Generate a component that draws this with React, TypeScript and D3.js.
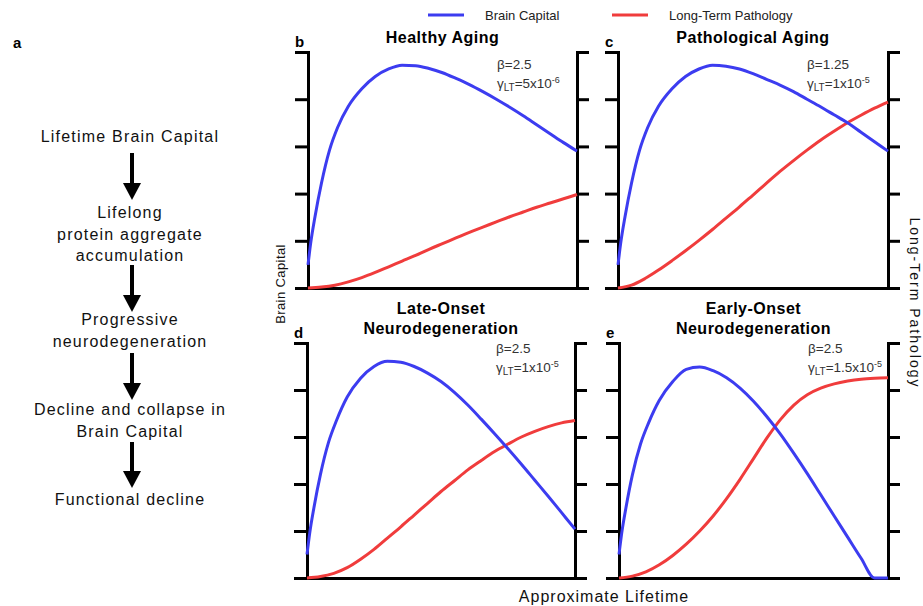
import * as d3 from 'd3';
import { useEffect, useRef } from 'react';

const width = 923;
const height = 606;
const font = 'Liberation Sans, Arial, sans-serif';
const blue = '#3c3cf0';
const red = '#f03c3c';

// ライフタイム（寿命の%）
const capitalAge = [0, 1, 2.6, 5, 8, 11, 15, 20, 25, 30, 35, 40, 45, 50, 55, 60, 65, 70, 75, 80, 85, 90, 95, 100];
const pathologyAge = [0, 5, 10, 15, 20, 25, 30, 35, 40, 45, 50, 55, 60, 65, 70, 75, 80, 85, 90, 95, 100];

// b: Healthy Aging
const healthyCapital = [0.49, 0.95, 1.51, 2.22, 2.92, 3.4, 3.85, 4.22, 4.48, 4.64, 4.72, 4.71, 4.65, 4.56, 4.44, 4.31, 4.16, 4.0, 3.83, 3.65, 3.46, 3.27, 3.08, 2.9];
const healthyPathology = [0, 0.02, 0.06, 0.13, 0.22, 0.33, 0.45, 0.57, 0.69, 0.82, 0.94, 1.06, 1.18, 1.29, 1.4, 1.51, 1.61, 1.71, 1.8, 1.89, 1.98];
// c: Pathological Aging
const pathCapital = [0.49, 0.95, 1.51, 2.22, 2.92, 3.4, 3.85, 4.22, 4.48, 4.64, 4.72, 4.7, 4.64, 4.54, 4.42, 4.3, 4.16, 4.0, 3.84, 3.67, 3.5, 3.3, 3.1, 2.9];
const pathPathology = [0, 0.06, 0.2, 0.38, 0.58, 0.79, 1.01, 1.24, 1.48, 1.72, 1.97, 2.22, 2.47, 2.7, 2.92, 3.13, 3.32, 3.5, 3.66, 3.81, 3.94];
// d: Late-Onset Neurodegeneration
const lateCapital = [0.5, 0.95, 1.5, 2.2, 2.88, 3.35, 3.85, 4.25, 4.5, 4.61, 4.59, 4.5, 4.36, 4.18, 3.95, 3.68, 3.38, 3.07, 2.75, 2.42, 2.08, 1.74, 1.39, 1.04];
const latePathology = [0, 0.03, 0.1, 0.22, 0.4, 0.61, 0.85, 1.09, 1.34, 1.59, 1.84, 2.07, 2.3, 2.5, 2.69, 2.85, 3.0, 3.12, 3.22, 3.3, 3.35];
// e: Early-Onset Neurodegeneration
const earlyCapital = [0.5, 0.95, 1.5, 2.2, 2.85, 3.3, 3.78, 4.18, 4.44, 4.49, 4.41, 4.26, 4.04, 3.76, 3.43, 3.06, 2.65, 2.22, 1.77, 1.32, 0.87, 0.42, 0, 0];
const earlyPathology = [0, 0.04, 0.13, 0.28, 0.48, 0.72, 1.0, 1.32, 1.69, 2.1, 2.54, 2.98, 3.37, 3.68, 3.9, 4.04, 4.13, 4.19, 4.23, 4.25, 4.26];

const capitalSeries = [healthyCapital, pathCapital, lateCapital, earlyCapital];
const pathologySeries = [healthyPathology, pathPathology, latePathology, earlyPathology];

const panelLetters = ['b', 'c', 'd', 'e'];
const panelTitles = [['Healthy Aging'], ['Pathological Aging'], ['Late-Onset', 'Neurodegeneration'], ['Early-Onset', 'Neurodegeneration']];
const betaLabels = ['2.5', '1.25', '2.5', '2.5'];
const gammaMantissa = ['5', '1', '1', '1.5'];
const gammaExponent = ['-6', '-5', '-5', '-5'];

const flowSteps = [
  ['Lifetime Brain Capital'],
  ['Lifelong', 'protein aggregate', 'accumulation'],
  ['Progressive', 'neurodegeneration'],
  ['Decline and collapse in', 'Brain Capital'],
  ['Functional decline'],
];

// パネル配置
const frames = [
  { left: 308, right: 577, top: 52, bottom: 288, noteTop: 17 },
  { left: 618, right: 888, top: 52, bottom: 288, noteTop: 17 },
  { left: 307, right: 575, top: 343, bottom: 578, noteTop: 10 },
  { left: 619, right: 888, top: 343, bottom: 578, noteTop: 10 },
];
const flowY = [142, 218, 325, 415, 505];
const flowArrows = [
  [153, 200],
  [265, 312],
  [353, 400],
  [442, 488],
];

export default function App() {
  const ref = useRef<HTMLDivElement>(null);

  useEffect(() => {
    if (!ref.current) return;
    const svg = d3
      .create('svg')
      .attr('width', width)
      .attr('height', height)
      .style('position', 'absolute')
      .style('left', 0)
      .style('top', 0)
      .style('background', '#fff')
      .attr('font-family', font);

    // 凡例
    const legend = svg.append('g');
    const legendItems = [
      { label: 'Brain Capital', color: blue, x: 428 },
      { label: 'Long-Term Pathology', color: red, x: 612 },
    ];
    legendItems.forEach((d) => {
      legend.append('line').attr('x1', d.x).attr('x2', d.x + 36).attr('y1', 15).attr('y2', 15)
        .attr('stroke', d.color).attr('stroke-width', 3);
      legend.append('text').attr('x', d.x + 57).attr('y', 19.5).attr('font-size', 13)
        .attr('fill', '#222').text(d.label);
    });

    // パネル a: フローチャート
    svg.append('text').attr('x', 13).attr('y', 48).attr('font-size', 15).attr('font-weight', 'bold').text('a');
    flowSteps.forEach((lines, i) => {
      lines.forEach((line, j) => {
        svg.append('text').attr('x', 130).attr('y', flowY[i] + j * 21.5).attr('text-anchor', 'middle')
          .attr('font-size', 16).attr('letter-spacing', 1.2).attr('fill', '#111').text(line);
      });
    });
    flowArrows.forEach(([y0, y1]) => {
      svg.append('line').attr('x1', 132).attr('x2', 132).attr('y1', y0).attr('y2', y1 - 14)
        .attr('stroke', '#000').attr('stroke-width', 4);
      svg.append('path').attr('d', `M123,${y1 - 17}L141,${y1 - 17}L132,${y1}Z`).attr('fill', '#000');
    });

    // パネル b-e
    frames.forEach((f, i) => {
      const x = d3.scaleLinear().domain([0, 100]).range([f.left, f.right]);
      const y = d3.scaleLinear().domain([0, 5]).range([f.bottom, f.top]);
      const g = svg.append('g');

      const styleAxis = (a: d3.Selection<SVGGElement, unknown, null, undefined>) => {
        a.selectAll('path, line').attr('stroke', '#000').attr('stroke-width', 3);
        a.selectAll('text').remove();
      };

      g.append('g').attr('transform', `translate(${f.left},0)`)
        .call(d3.axisLeft(y).ticks(5).tickSize(13).tickSizeOuter(13).tickFormat(() => ''))
        .call(styleAxis);
      g.append('g').attr('transform', `translate(${f.right},0)`)
        .call(d3.axisRight(y).ticks(5).tickSize(12).tickSizeOuter(12).tickFormat(() => ''))
        .call(styleAxis);
      g.append('g').attr('transform', `translate(0,${f.bottom})`)
        .call(d3.axisBottom(x).ticks(0).tickSizeOuter(0))
        .call(styleAxis);

      const redLine = d3.line<number>().x((_, k) => x(pathologyAge[k])).y((d) => y(d)).curve(d3.curveMonotoneX);
      const blueLine = d3.line<number>().x((_, k) => x(capitalAge[k])).y((d) => y(d)).curve(d3.curveMonotoneX);

      g.append('path').datum(pathologySeries[i]).attr('fill', 'none').attr('stroke', red)
        .attr('stroke-width', 3).attr('d', redLine);
      g.append('path').datum(capitalSeries[i]).attr('fill', 'none').attr('stroke', blue)
        .attr('stroke-width', 3).attr('d', blueLine);

      // パネル文字とタイトル
      g.append('text').attr('x', f.left - 13).attr('y', f.top - 5).attr('font-size', 15)
        .attr('font-weight', 'bold').text(panelLetters[i]);
      const titles = panelTitles[i];
      titles.forEach((t, j) => {
        g.append('text').attr('x', (f.left + f.right) / 2)
          .attr('y', f.top - 9 - (titles.length - 1 - j) * 20)
          .attr('text-anchor', 'middle').attr('font-size', 16).attr('letter-spacing', 0.5)
          .attr('font-weight', 'bold').text(t);
      });

      // パラメータ注記
      const nx = f.left + 189;
      g.append('text').attr('x', nx).attr('y', f.top + f.noteTop).attr('font-size', 13.5)
        .attr('fill', '#333').text(`β=${betaLabels[i]}`);
      const gt = g.append('text').attr('x', nx).attr('y', f.top + f.noteTop + 18.5)
        .attr('font-size', 13.5).attr('fill', '#333');
      gt.append('tspan').text('γ');
      gt.append('tspan').attr('font-size', 10).attr('dy', 3).text('LT');
      gt.append('tspan').attr('dy', -3).text(`=${gammaMantissa[i]}x10`);
      gt.append('tspan').attr('font-size', 9).attr('dy', -5).text(gammaExponent[i]);
    });

    // 軸ラベル
    svg.append('text').attr('transform', 'translate(285,284) rotate(-90)').attr('text-anchor', 'middle')
      .attr('font-size', 13).attr('letter-spacing', 0.4).attr('fill', '#111').text('Brain Capital');
    svg.append('text').attr('transform', 'translate(910,303) rotate(90)').attr('text-anchor', 'middle')
      .attr('font-size', 14).attr('letter-spacing', 2).attr('fill', '#111').text('Long-Term Pathology');
    svg.append('text').attr('x', 604).attr('y', 602).attr('text-anchor', 'middle')
      .attr('font-size', 16).attr('letter-spacing', 1).attr('fill', '#111').text('Approximate Lifetime');

    ref.current.innerHTML = '';
    ref.current.appendChild(svg.node()!);
  }, [ref]);

  return <div ref={ref} />;
}
